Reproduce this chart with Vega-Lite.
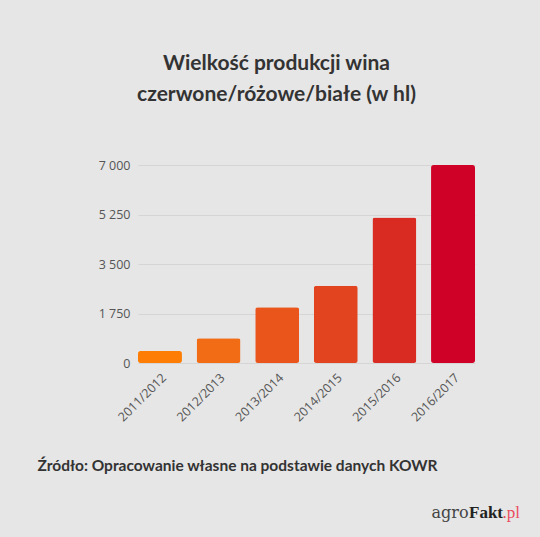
{
  "$schema": "https://vega.github.io/schema/vega-lite/v6.json",
  "autosize": {"type": "none"},
  "padding": {"left": 138, "top": 165, "right": 65, "bottom": 174},
  "width": 337,
  "height": 198,
  "background": "#e6e6e6",
  "config": {
    "view": {"stroke": null},
    "font": "Lato"
  },
  "title": {
    "text": ["Wielkość produkcji wina", "czerwone/różowe/białe (w hl)"],
    "font": "Lato",
    "fontSize": 21,
    "fontWeight": "bold",
    "color": "#333333",
    "lineHeight": 31,
    "anchor": "middle",
    "dx": -30,
    "offset": 54
  },
  "data": {
    "values": [
      {"season": "2011/2012", "value": 420},
      {"season": "2012/2013", "value": 873},
      {"season": "2013/2014", "value": 1970},
      {"season": "2014/2015", "value": 2735},
      {"season": "2015/2016", "value": 5140},
      {"season": "2016/2017", "value": 7000}
    ]
  },
  "layer": [
    {
      "mark": {"type": "bar", "cornerRadius": 2.5},
      "encoding": {
        "x": {
          "field": "season",
          "type": "nominal",
          "sort": null,
          "scale": {"paddingInner": 0.25, "paddingOuter": 0},
          "axis": {
            "title": "Źródło: Opracowanie własne na podstawie danych KOWR",
            "titleFont": "Lato",
            "titleFontSize": 15.5,
            "titleFontWeight": "bold",
            "titleColor": "#333333",
            "titleAnchor": "start",
            "titleAlign": "left",
            "titleBaseline": "middle",
            "titleX": -101,
            "titleY": 102,
            "labelAngle": -45,
            "labelFont": "Open Sans",
            "labelFontSize": 12.5,
            "labelColor": "#555555",
            "labelPadding": 8,
            "ticks": false,
            "domain": false
          }
        },
        "y": {
          "field": "value",
          "type": "quantitative",
          "scale": {"domain": [0, 7000], "nice": false},
          "axis": {
            "title": null,
            "values": [0, 1750, 3500, 5250, 7000],
            "labelExpr": "replace(format(datum.value, ',.0f'), ',', ' ')",
            "labelFont": "Open Sans",
            "labelFontSize": 12.5,
            "labelColor": "#555555",
            "labelPadding": 8,
            "ticks": false,
            "domain": false,
            "gridColor": "#d5d5d5",
            "gridWidth": 1
          }
        },
        "color": {
          "field": "season",
          "type": "nominal",
          "legend": null,
          "scale": {
            "domain": ["2011/2012", "2012/2013", "2013/2014", "2014/2015", "2015/2016", "2016/2017"],
            "range": ["#FE7E05", "#F26C15", "#EA551C", "#E2441F", "#D92B21", "#D00126"]
          }
        }
      }
    },
    {
      "data": {"values": [{"t": "agro"}]},
      "mark": {"type": "text", "font": "DejaVu Serif", "fontSize": 16, "color": "#444444", "align": "right", "baseline": "middle", "dx": 15.5, "dy": 150},
      "encoding": {"x": {"datum": "2016/2017"}, "y": {"datum": 0}, "text": {"field": "t"}}
    },
    {
      "data": {"values": [{"t": "Fakt"}]},
      "mark": {"type": "text", "font": "Liberation Serif", "fontSize": 17, "fontWeight": "bold", "color": "#222222", "align": "left", "baseline": "middle", "dx": 16, "dy": 150},
      "encoding": {"x": {"datum": "2016/2017"}, "y": {"datum": 0}, "text": {"field": "t"}}
    },
    {
      "data": {"values": [{"t": ".pl"}]},
      "mark": {"type": "text", "font": "Liberation Serif", "fontSize": 17, "color": "#EB4C5E", "align": "left", "baseline": "middle", "dx": 49.5, "dy": 150},
      "encoding": {"x": {"datum": "2016/2017"}, "y": {"datum": 0}, "text": {"field": "t"}}
    }
  ]
}
